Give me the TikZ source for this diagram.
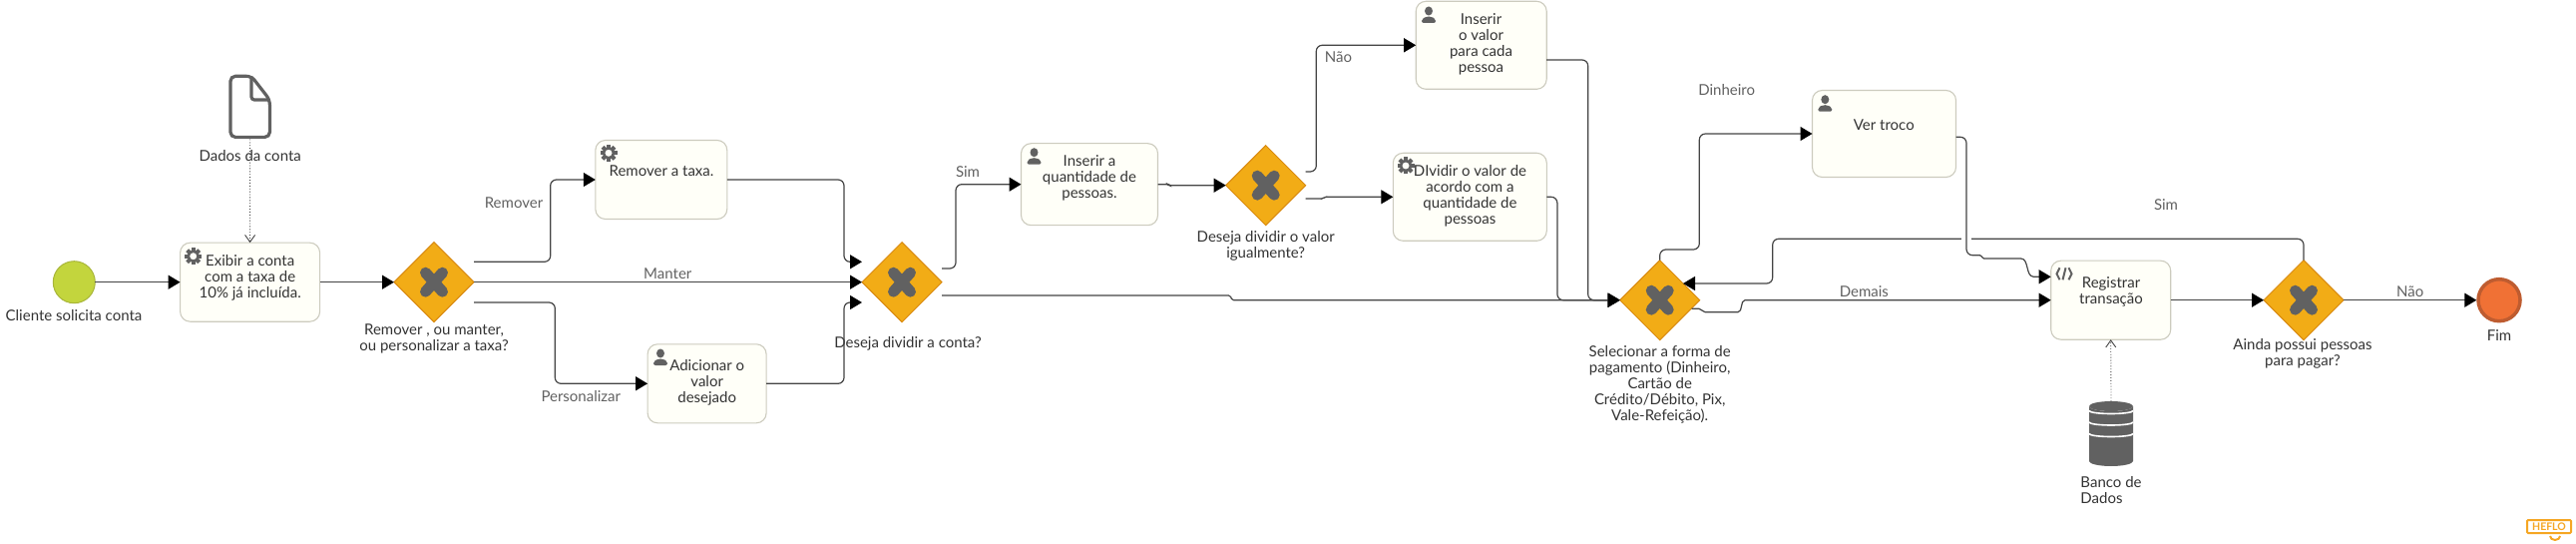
\documentclass[tikz,border=0pt]{standalone}
\usepackage{fontspec}
\usepackage{xcolor}
\setmainfont{Lato}
\usetikzlibrary{arrows.meta,shapes.geometric}
\definecolor{icongray}{HTML}{616161}
\definecolor{linegray}{HTML}{444444}
\definecolor{textdark}{HTML}{333333}
\definecolor{gateorange}{HTML}{F2AC16}
\definecolor{gateline}{HTML}{D98A10}
\definecolor{startgreen}{HTML}{C3D53D}
\definecolor{startline}{HTML}{A8B53A}
\definecolor{endorange}{HTML}{F07135}
\definecolor{endline}{HTML}{BE5C30}
\definecolor{taskfill}{HTML}{FFFFF8}
\definecolor{taskline}{HTML}{CCCBBE}
\definecolor{heflo}{HTML}{F5A623}
\tikzset{
  taskbox/.style={draw=taskline, line width=1.1pt, fill=taskfill, rounded corners=10pt, inner sep=0pt, outer sep=0pt},
  gatebox/.style={diamond, aspect=1, draw=gateline, line width=1pt, fill=gateorange, minimum width=80pt, minimum height=80pt, inner sep=0pt, outer sep=0pt},
  txt/.style={text=textdark, align=center, inner sep=0pt, font=\fontsize{15}{16}\selectfont},
  edgetxt/.style={txt, text=black!62},
  flow/.style={draw=linegray, line width=1.2pt, rounded corners=6pt, -{Triangle[length=12pt,width=14pt,color=black]}},
  stepflow/.style={flow, rounded corners=1.5pt},
  assoc/.style={draw=linegray, line width=.9pt, dotted, -{Straight Barb[length=7pt,width=10pt,color=linegray,line width=.9pt]}},
  xmark/.pic={\draw[icongray, line width=11pt, line cap=round] (-8.5,-9.5) -- (8.5,9.5) (-8.5,9.5) -- (8.5,-9.5);},
  gearicon/.pic={
    \foreach \a in {0,45,...,315} \fill[icongray, rotate=\a] (-2,5) rectangle (2,8.5);
    \draw[icongray, line width=2.6pt] (0,0) circle (5pt);
  },
  usericon/.pic={
    \fill[icongray] (0,-4) ellipse (4pt and 4.5pt);
    \fill[icongray, rounded corners=2pt] (-7,8) -- (-7,4) -- (-2,1.5) -- (2,1.5) -- (7,4) -- (7,8) -- cycle;
  },
  scripticon/.pic={
    \draw[icongray, line width=2pt] (-4.5,-6) -- (-7.5,0) -- (-4.5,6);
    \draw[icongray, line width=2pt] (4.5,-6) -- (7.5,0) -- (4.5,6);
    \draw[icongray, line width=2pt] (1.5,-6) -- (-1.5,6);
  }
}

\begin{document}
\begin{tikzpicture}[x=1pt, y=-1pt]
  \useasboundingbox (0,0) rectangle (2582,545);

  % eventos
  \node[circle, draw=startline, fill=startgreen, line width=1pt, minimum size=42pt, inner sep=0pt, outer sep=0pt] (startev) at (74.3,282.7) {};
  \node[txt] (startlb) at (74,316) {Cliente solicita conta};
  \node[circle, draw=endline, fill=endorange, line width=3.5pt, minimum size=42pt, inner sep=0pt, outer sep=1.7pt] (endev) at (2505,300.7) {};
  \node[txt] (endlb) at (2505,336) {Fim};

  % tarefas
  \node[taskbox, minimum width=140pt, minimum height=79pt] (exibirtask) at (250.6,282.7) {};
  \node[txt] (exibirlb) at (250.7,278) {Exibir a conta\\com a taxa de\\10\% já incluída.};
  \node[taskbox, minimum width=132pt, minimum height=79pt] (removertask) at (662.8,180) {};
  \node[txt] (removerlb) at (663,171) {Remover a taxa.};
  \node[taskbox, minimum width=119pt, minimum height=79pt] (adicionartask) at (708.6,384.3) {};
  \node[txt] (adicionarlb) at (708.7,383) {Adicionar o\\valor\\desejado};
  \node[taskbox, minimum width=137pt, minimum height=82pt] (qtdtask) at (1092,184.7) {};
  \node[txt] (qtdlb) at (1092,178) {Inserir a\\quantidade de\\pessoas.};
  \node[taskbox, minimum width=131pt, minimum height=88pt] (cadatask) at (1484.7,45.3) {};
  \node[txt] (cadalb) at (1484.5,44) {Inserir\\o valor\\para cada\\pessoa};
  \node[taskbox, minimum width=154pt, minimum height=88pt] (dividirtask) at (1473.3,197.3) {};
  \node[txt] (dividirlb) at (1473.5,196) {DIvidir o valor de\\acordo com a\\quantidade de\\pessoas};
  \node[taskbox, minimum width=144pt, minimum height=87pt] (trocotask) at (1888.5,134) {};
  \node[txt] (trocolb) at (1888.3,125) {Ver troco};
  \node[taskbox, minimum width=120pt, minimum height=79pt] (registrartask) at (2115.7,300.7) {};
  \node[txt] (registrarlb) at (2116,292) {Registrar\\transação};

  % gateways
  \node[gatebox] (gwtaxa) at (435,282.7) {};
  \node[txt] (gwtaxalb) at (435,339) {Remover , ou manter,\\ou personalizar a taxa?};
  \node[gatebox] (gwdividir) at (904,282.7) {};
  \node[txt] (gwdividirlb) at (910,344) {Deseja dividir a conta?};
  \node[gatebox] (gwigual) at (1268.7,185.7) {};
  \node[txt] (gwiguallb) at (1268.7,246) {Deseja dividir o valor\\igualmente?};
  \node[gatebox] (gwforma) at (1663.7,300.7) {};
  \node[txt] (gwformalb) at (1663.7,385) {Selecionar a forma de\\pagamento (Dinheiro,\\Cartão de\\Crédito/Débito, Pix,\\Vale-Refeição).};
  \node[gatebox] (gwpessoas) at (2309,300.7) {};
  \node[txt] (gwpessoaslb) at (2308,354) {Ainda possui pessoas\\para pagar?};
  \foreach \g in {gwtaxa,gwdividir,gwigual,gwforma,gwpessoas}
    \pic at (\g) {xmark};

  % icones das tarefas
  \pic at (193.7,256.7) {gearicon};
  \pic at (610,153.3) {gearicon};
  \pic at (1409,166) {gearicon};
  \pic at (662,358) {usericon};
  \pic at (1036.5,156.7) {usericon};
  \pic at (1432,15) {usericon};
  \pic at (1829.3,103.7) {usericon};
  \pic at (2069,274.3) {scripticon};

  % documento e banco
  \node[inner sep=0pt, outer sep=0pt, minimum width=43pt, minimum height=65pt] (docdata) at (250.7,107) {};
  \draw[icongray, line width=3.2pt, rounded corners=5pt] (231,76.3) -- (252,76.3) -- (270.4,100) -- (270.4,137.4) -- (231,137.4) -- cycle;
  \draw[icongray, line width=3.2pt, rounded corners=3pt] (252,76.3) -- (252,100) -- (270.4,100);
  \node[txt] (doclb) at (250.7,155.7) {Dados da conta};

  \node[inner sep=0pt, outer sep=0pt, minimum width=44pt, minimum height=65pt] (dbdata) at (2116,434.6) {};
  \fill[icongray] (2094,407) arc (180:360:22pt and 5pt) -- (2138,462) arc (0:-180:22pt and 5pt) -- cycle;
  \fill[icongray] (2116,407) ellipse (22pt and 5pt);
  \foreach \yy in {411.5,423,434.5}
    \draw[white, line width=1.6pt] (2094,\yy) arc (180:360:22pt and 3pt);
  \node[txt, align=left] (dblb) at (2116,491) {Banco de\\Dados};

  % fluxos
  \draw[flow] (startev.east) -- (exibirtask.west);
  \draw[flow] (exibirtask.east) -- (gwtaxa.west);
  \draw[flow] ([yshift=20.4pt]gwtaxa.east) -- (551.7,262.3) -- (551.7,180) -- (removertask.west);
  \draw[flow] (gwtaxa.east) -- (gwdividir.west);
  \draw[flow] ([yshift=-20.3pt]gwtaxa.east) -- (556.3,303) -- (556.3,384.3) -- (adicionartask.west);
  \draw[flow] (removertask.east) -- (846,180) -- (846,262.3) -- ([yshift=20.4pt]gwdividir.west);
  \draw[flow] (adicionartask.east) -- (846,384.3) -- (846,303) -- ([yshift=-20.3pt]gwdividir.west);
  \draw[flow] ([yshift=13.7pt]gwdividir.east) -- (958,269) -- (958,184.7) -- (qtdtask.west);
  \draw[stepflow] ([yshift=-13.3pt]gwdividir.east) -- (1233,296) -- (1235,300.7) -- (gwforma.west);
  \draw[stepflow] (qtdtask.east) -- (1171,184.7) -- (1172,185.7) -- (gwigual.west);
  \draw[flow] ([yshift=13.7pt]gwigual.east) -- (1319.3,172) -- (1319.3,45.3) -- (cadatask.west);
  \draw[stepflow] ([yshift=-13.3pt]gwigual.east) -- (1326,199) -- (1328,197.3) -- (dividirtask.west);
  \draw[flow] (cadatask.east |- 0,60) -- (1591.7,60) -- (1591.7,300.7) -- (gwforma.west);
  \draw[flow] (dividirtask.east) -- (1560.9,197.3) -- (1560.9,300.7) -- (gwforma.west);
  \draw[flow] (gwforma.north) -- (1663.7,250) -- (1703.3,250) -- (1703.3,134) -- (trocotask.west);
  \draw[flow] (gwpessoas.north) -- (2309,239.3) -- (1776.7,239.3) -- (1776.7,284) -- (1687,284);
  \draw[white, line width=3pt] (1966,239.3) -- (1976,239.3);
  \draw[flow] (trocotask.east |- 0,137.3) -- (1971,137.3) -- (1971,255.7) [rounded corners=1.5pt] -- (1986,255.7) -- (1987,259) -- (2024,259) .. controls (2034,259) and (2030,277.3) .. (2040,277.3) -- ([yshift=23.4pt]registrartask.west);
  \draw[stepflow, rounded corners=2pt] ([xshift=-8pt,yshift=-8.6pt]gwforma.east) -- (1705,309.3) -- (1707,312.7) -- (1744,312.7) -- (1747,300.7) -- (registrartask.west);
  \draw[flow] (registrartask.east) -- (gwpessoas.west);
  \draw[flow] (gwpessoas.east) -- (endev.west);

  % associacoes
  \draw[assoc] (docdata.south) -- (exibirtask.north);
  \draw[assoc] (dbdata.north) -- (registrartask.south);

  % rotulos dos fluxos
  \node[edgetxt] (lbremover) at (515,202.7) {Remover};
  \node[edgetxt] (lbmanter) at (669.3,273.7) {Manter};
  \node[edgetxt] (lbpersonal) at (582.3,396.7) {Personalizar};
  \node[edgetxt] (lbsim) at (970,171.7) {Sim};
  \node[edgetxt] (lbnao) at (1341.4,57) {Não};
  \node[edgetxt] (lbdinheiro) at (1730.7,90) {Dinheiro};
  \node[edgetxt] (lbdemais) at (1868.3,292) {Demais};
  \node[edgetxt] (lbsimdois) at (2171,205) {Sim};
  \node[edgetxt] (lbnaodois) at (2415.7,292) {Não};

  % marca
  \draw[heflo, line width=2pt, rounded corners=1pt] (2533,521) rectangle (2577,534);
  \draw[heflo, line width=2pt] (2556,537) arc (180:360:5pt and 4pt);
  \node[text=heflo, inner sep=0pt, font=\fontsize{10.5}{11}\bfseries\selectfont] (heflolb) at (2555,527.5) {HEFLO};
\end{tikzpicture}
\end{document}
